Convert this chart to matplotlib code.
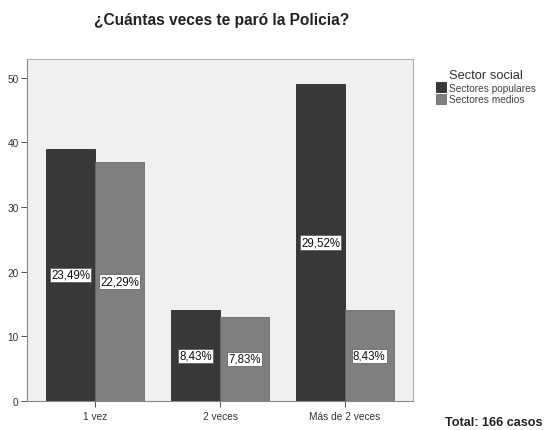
import matplotlib.pyplot as plt
import numpy as np

plt.rcParams['font.family'] = ['Liberation Sans', 'DejaVu Sans']

categories = ['1 vez', '2 veces', 'Más de 2 veces']
populares = [39, 14, 49]
medios = [37, 13, 14]
pct_populares = ['23,49%', '8,43%', '29,52%']
pct_medios = ['22,29%', '7,83%', '8,43%']
series_names = ['Sectores populares', 'Sectores medios']

dark = '#383838'
light = '#7f7f7f'

fig = plt.figure(figsize=(5.45, 4.31), dpi=100)
ax = fig.add_axes([27 / 545, 1 - 402 / 431, (413 - 27) / 545, (402 - 60) / 431])
ax.set_facecolor('#f0f0f0')

x = np.arange(len(categories))
w = 0.39
b1 = ax.bar(x - w / 2, populares, w, color=dark, edgecolor='#2a2a2a', linewidth=0.6,
            label=series_names[0], zorder=2)
b2 = ax.bar(x + w / 2, medios, w, color=light, edgecolor='#6a6a6a', linewidth=0.6,
            label=series_names[1], zorder=2)

for bars, labels in [(b1, pct_populares), (b2, pct_medios)]:
    for bar, lab in zip(bars, labels):
        ax.text(bar.get_x() + bar.get_width() / 2, bar.get_height() / 2, lab,
                ha='center', va='center', fontsize=8.3, color='#111111', zorder=3,
                bbox=dict(boxstyle='square,pad=0.1', facecolor='white',
                          edgecolor='#555555', linewidth=0.5))

ax.set_xlim(-0.545, 2.545)
ax.set_ylim(0, 52.9)
ax.set_yticks([0, 10, 20, 30, 40, 50])
ax.set_xticks(x)
ax.set_xticklabels(categories)
ax.tick_params(axis='both', labelsize=7.3, colors='#333333', length=4, width=0.6)
ax.tick_params(axis='y', pad=2)
for s in ax.spines.values():
    s.set_color('#b0b0b0')
    s.set_linewidth(0.8)
ax.spines['bottom'].set_color('#888888')
ax.spines['left'].set_color('#888888')

fig.text(222 / 545, 1 - 21 / 431, '¿Cuántas veces te paró la Policia?',
         ha='center', va='center', fontsize=11.2, fontweight='bold', color='#222222')

leg = fig.legend(handles=[b1, b2], labels=series_names, title='Sector social',
                 loc='upper left', bbox_to_anchor=(430 / 545, 1 - 64 / 431),
                 frameon=False, fontsize=7.3, title_fontsize=9.3,
                 handlelength=1.0, handleheight=1.2, handletextpad=0.3,
                 labelspacing=0.1, borderpad=0.1)
leg.get_title().set_color('#333333')
for t in leg.get_texts():
    t.set_color('#444444')

fig.text(494 / 545, 1 - 423 / 431, 'Total: 166 casos', ha='center', va='center',
         fontsize=9.1, fontweight='bold', color='#222222')

fig.savefig('out.png', dpi=100)
